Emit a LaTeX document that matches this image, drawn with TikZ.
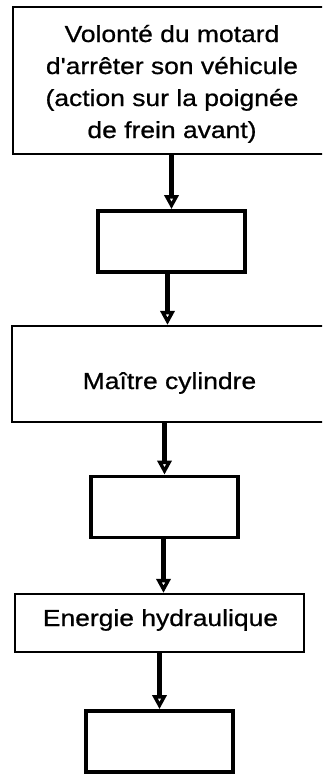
\documentclass[tikz,border=0pt]{standalone}
\usepackage{fontspec}
\usepackage{graphicx}
\setmainfont{Liberation Sans}[Ligatures=TeXOff]
\newfontfamily\labelfont{Liberation Sans}[Ligatures=TeXOff,FakeBold=0.7]
\usetikzlibrary{arrows.meta,calc}
% wide setting of the labels
\newcommand{\widetext}[1]{\scalebox{1.14}[1]{#1}}
\begin{document}
\begin{tikzpicture}[x=1pt,y=-1pt,
  thinbox/.style={draw,line width=2.2pt,inner sep=0pt},
  thickbox/.style={draw,line width=3.8pt,inner sep=0pt,minimum width=147pt,minimum height=61pt},
  txt/.style={font=\labelfont\fontsize{23.2}{33}\selectfont,inner sep=0pt,anchor=base},
  flow/.style={line width=4.4pt,-{Triangle[open,length=14pt,width=14pt,line width=3.4pt]}}]
\useasboundingbox (0,0) rectangle (322,774);
\clip (0,0) rectangle (322,774);
% stage boxes
\node[thinbox,minimum width=318pt,minimum height=147pt] (b1) at (172,80.5) {};
\node[thickbox] (b2) at (171.5,241.5) {};
\node[thinbox,minimum width=319pt,minimum height=96pt] (b3) at (171.5,374) {};
\node[thickbox] (b4) at (164.5,507) {};
\node[thinbox,minimum width=289pt,minimum height=58pt] (b5) at (159.5,623) {};
\node[thickbox] (b6) at (159.5,741.5) {};
% labels
\node[txt] (t1a) at (172,42) {\widetext{Volonté du motard}};
\node[txt] (t1b) at (172,74) {\widetext{d'arrêter son véhicule}};
\node[txt] (t1c) at (172,106) {\widetext{(action sur la poignée}};
\node[txt] (t1d) at (172,138) {\widetext{de frein avant)}};
\node[txt] (t3) at (169.5,389) {\widetext{Maître cylindre}};
\node[txt] (t5) at (160.5,626) {\widetext{Energie hydraulique}};
% connectors
\draw[flow] (b2.north |- b1.south) -- (b2.north);
\draw[flow] (b2.south) ++(-4,0) coordinate (c2) -- (c2 |- b3.north);
\draw[flow] (b4.north |- b3.south) -- (b4.north);
\draw[flow] (b4.south) ++(-1,0) coordinate (c4) -- (c4 |- b5.north);
\draw[flow] (b6.north |- b5.south) -- (b6.north);
\end{tikzpicture}
\end{document}
